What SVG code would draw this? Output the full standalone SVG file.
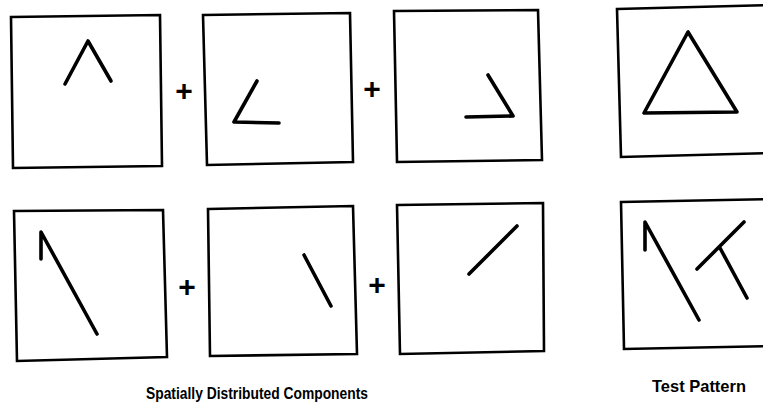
<svg xmlns="http://www.w3.org/2000/svg" width="763" height="407" viewBox="0 0 763 407">
<style>
.frame{fill:none;stroke:#000;stroke-width:2.6;stroke-linejoin:miter}
.stroke{fill:none;stroke:#000;stroke-width:3.6;stroke-linecap:round;stroke-linejoin:round}
.plus{font-family:"Liberation Sans",Arial,sans-serif;font-weight:bold;font-size:30px;text-anchor:middle;fill:#000}
.cap{font-family:"Liberation Sans",Arial,sans-serif;font-weight:bold;font-size:17px;fill:#000}
</style>
<rect width="763" height="407" fill="#fff"/>
<g id="box1">
<polygon class="frame" points="11,17 160,15 162,166 13,168"/>
<polyline class="stroke" points="65,84 88,41 111,81"/>
</g>
<g id="box2">
<polygon class="frame" points="203,15 350,13 353,162 207,165"/>
<polyline class="stroke" points="257,81 234,122 279,123"/>
</g>
<g id="box3">
<polygon class="frame" points="394,11 538,10 542,160 397,162"/>
<polyline class="stroke" points="488,75 513,116 466,117"/>
</g>
<g id="box4">
<polygon class="frame" points="617,9 775,5 775,153 621,157"/>
<polygon class="stroke" points="688,32 644,113 737,112"/>
</g>
<g id="box5">
<polygon class="frame" points="14,211 163,210 167,357 17,361"/>
<polyline class="stroke" points="41,259 41,232 97,334"/>
</g>
<g id="box6">
<polygon class="frame" points="208,209 353,206 357,354 210,356"/>
<line class="stroke" x1="304" y1="255" x2="331" y2="306"/>
</g>
<g id="box7">
<polygon class="frame" points="397,205 543,203 544,351 400,354"/>
<line class="stroke" x1="469" y1="274" x2="517" y2="226"/>
</g>
<g id="box8">
<polygon class="frame" points="621,202 775,199 775,346 624,349"/>
<polyline class="stroke" points="645,250 645,222 699,320"/>
<line class="stroke" x1="697" y1="269" x2="744" y2="222"/>
<line class="stroke" x1="720" y1="248" x2="747" y2="298"/>
</g>
<g id="connectors">
<text class="plus" x="184" y="101">+</text>
<text class="plus" x="372" y="99">+</text>
<text class="plus" x="187" y="297">+</text>
<text class="plus" x="377" y="295">+</text>
</g>
<g id="labels">
<text class="cap" x="146" y="399" textLength="222" lengthAdjust="spacingAndGlyphs">Spatially Distributed Components</text>
<text class="cap" x="652" y="392" textLength="94" lengthAdjust="spacingAndGlyphs">Test Pattern</text>
</g>
</svg>
